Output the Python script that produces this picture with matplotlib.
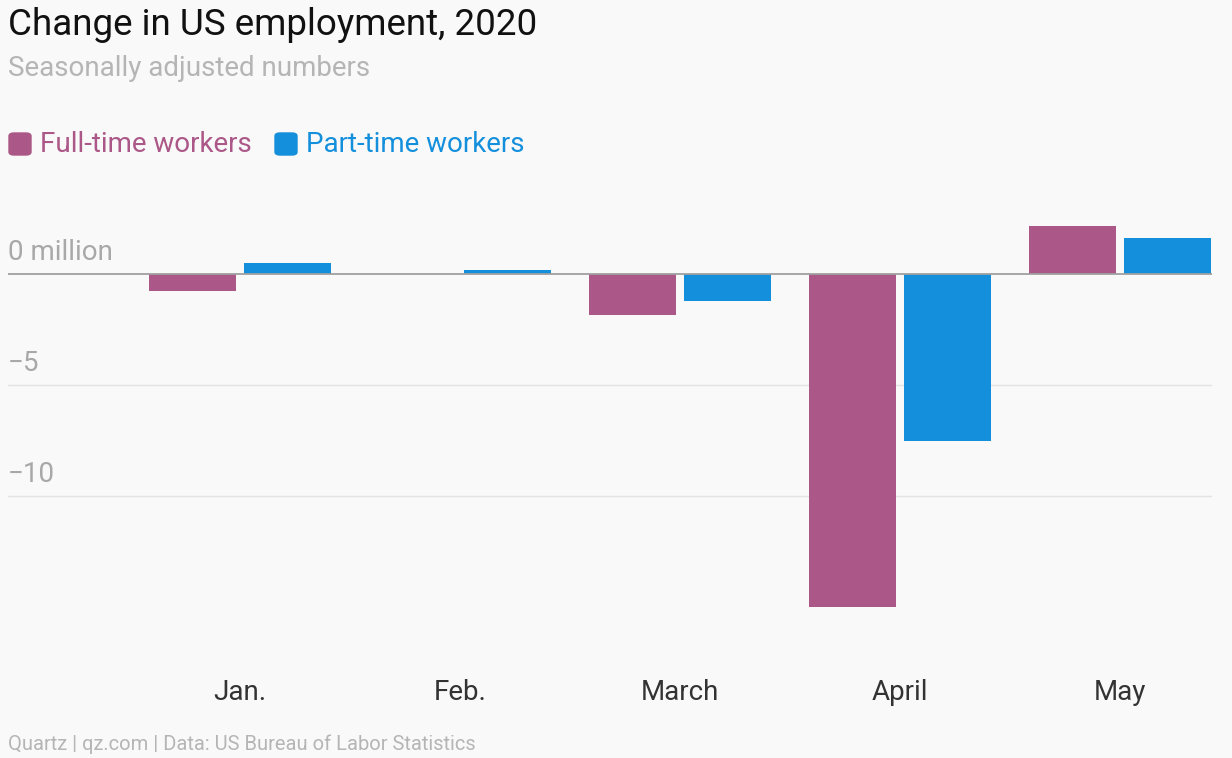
import matplotlib
matplotlib.use("Agg")
import matplotlib.pyplot as plt
import numpy as np

months = ["Jan.", "Feb.", "March", "April", "May"]
full_time = [-0.77, 0.0, -1.85, -15.0, 2.15]
part_time = [0.5, 0.18, -1.2, -7.5, 1.6]
yticks = [0, -5, -10]
ytick_labels = ["0 million", "−5", "−10"]

W, H = 1232, 758
bg = "#f9f9f9"
c_full = "#ab5787"
c_part = "#148fdc"
plt.rcParams['font.family'] = ['Roboto', 'DejaVu Sans']

fig = plt.figure(figsize=(W/100, H/100), dpi=100, facecolor=bg)
y0 = 274; ppm = 22.2
top_px, bot_px = 200, 660
ax = fig.add_axes([8/W, 1-bot_px/H, (1212-8)/W, (bot_px-top_px)/H], facecolor=bg)
ax.set_ylim(-(bot_px-y0)/ppm, (y0-top_px)/ppm)
ax.set_xlim(-1.055, 4.418)
x = np.arange(len(months))
w = 0.395
ax.bar(x-0.216, full_time, w, color=c_full, zorder=3)
ax.bar(x+0.216, part_time, w, color=c_part, zorder=3)
for t, lab in zip(yticks, ytick_labels):
    ax.axhline(t, color="#a0a0a0" if t == 0 else "#e3e3e3", lw=1.3 if t == 0 else 1, zorder=4 if t == 0 else 1)
    ax.text(-1.055, t+0.35, lab, fontsize=20, color="#a8a8a8", va="bottom", ha="left")
for xi, m in zip(x, months):
    ax.text(xi, -(693-y0)/ppm, m, fontsize=20, color="#333333", ha="center", va="center")
ax.axis("off")

fig.text(8/W, 1-25/H, "Change in US employment, 2020", fontsize=26.5, color="#111111", va="center")
fig.text(8/W, 1-68/H, "Seasonally adjusted numbers", fontsize=20, color="#b5b5b5", va="center")
from matplotlib.patches import FancyBboxPatch
for px, col, lab in [(9, c_full, "Full-time workers"), (275, c_part, "Part-time workers")]:
    fig.patches.append(FancyBboxPatch((px/W, 1-155/H), 22/W, 22/H, boxstyle="round,pad=0,rounding_size=0.004",
                                      transform=fig.transFigure, color=col))
    fig.text((px+31)/W, 1-145/H, lab, fontsize=20, color=col, va="center")
fig.text(8/W, 1-744/H, "Quartz | qz.com | Data: US Bureau of Labor Statistics", fontsize=14.5, color="#b5b5b5", va="center")
fig.savefig("out.png", dpi=100, facecolor=bg)
